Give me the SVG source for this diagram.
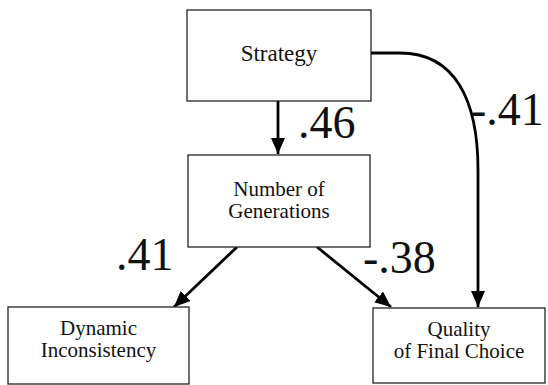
<svg xmlns="http://www.w3.org/2000/svg" width="548" height="385" viewBox="0 0 548 385">
<style>
.box{fill:#fff;stroke:#222;stroke-width:1.3}
.t{font-family:'Liberation Serif','Times New Roman',serif;font-size:21px;fill:#111;text-anchor:middle}
.n{font-family:'Liberation Serif','Times New Roman',serif;font-size:46px;fill:#111}
.c{fill:none;stroke:#000;stroke-width:2.8}
</style>
<defs>
<marker id="ah" markerUnits="userSpaceOnUse" markerWidth="16" markerHeight="14" refX="16" refY="7" orient="auto">
<path d="M0,0 L16,7 L0,14 Z" fill="#000"/>
</marker>
</defs>
<rect width="548" height="385" fill="#fff"/>
<g id="connectors">
<path class="c" d="M278,101 L278,154" marker-end="url(#ah)"/>
<path class="c" d="M237,247 L174,307" marker-end="url(#ah)"/>
<path class="c" d="M317,247 L391,307" marker-end="url(#ah)"/>
<path class="c" d="M371,53 L400,53 C455,53 478,100 478,170 L478,307" marker-end="url(#ah)"/>
</g>
<g id="labels">
<text class="n" x="298" y="138">.46</text>
<text class="n" x="471" y="125">-.41</text>
<text class="n" x="116" y="270">.41</text>
<text class="n" x="363" y="273">-.38</text>
</g>
<g id="strategy">
<rect class="box" x="187" y="10" width="184" height="91"/>
<text class="t" x="279" y="61" style="font-size:23px">Strategy</text>
</g>
<g id="generations">
<rect class="box" x="188" y="155" width="182" height="92"/>
<text class="t" x="279" y="196">Number of</text>
<text class="t" x="279" y="218">Generations</text>
</g>
<g id="dynamic">
<rect class="box" x="8" y="307" width="181" height="77"/>
<text class="t" x="98.5" y="335">Dynamic</text>
<text class="t" x="98.5" y="357">Inconsistency</text>
</g>
<g id="quality">
<rect class="box" x="373" y="308" width="172" height="75"/>
<text class="t" x="459" y="336">Quality</text>
<text class="t" x="459" y="358">of Final Choice</text>
</g>
</svg>
